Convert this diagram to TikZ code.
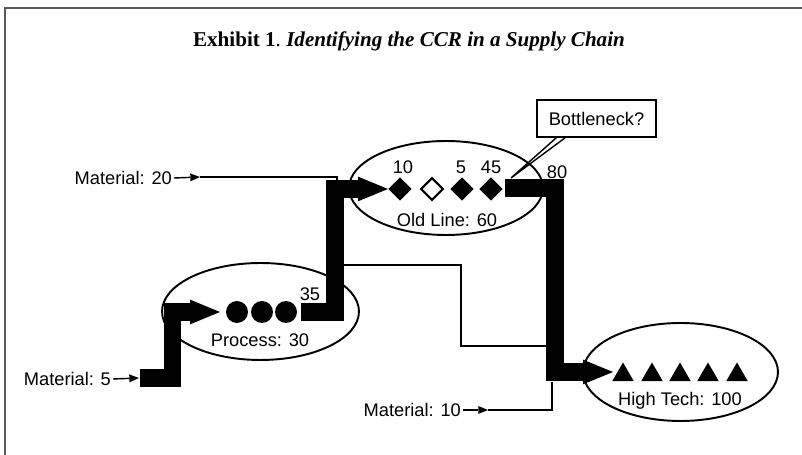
\documentclass[tikz,border=0pt]{standalone}
\usepackage{fontspec}
\setmainfont{Liberation Sans}
\newfontfamily\exhibitfont{Liberation Serif}
\usetikzlibrary{arrows.meta,shapes.geometric}

\begin{document}
\begin{tikzpicture}[x=0.02cm, y=-0.02cm,
    stage/.style={draw, ellipse, line width=1.1pt, inner sep=0pt},
    flow/.style={line width=10pt, -{Triangle[length=17pt,width=14pt,line width=0pt]}},
    feed/.style={line width=0.8pt, -{Triangle[length=5.5pt,width=4.5pt,line width=0pt]}},
    link/.style={line width=0.8pt},
    lbl/.style={font=\fontsize{10.4}{12}\selectfont, inner sep=1pt},
    dot/.style={circle, fill, minimum size=0.44cm, inner sep=0pt},
    gem/.style={diamond, fill, minimum size=0.47cm, inner sep=0pt},
    cone/.style={regular polygon, regular polygon sides=3, fill, minimum size=0.5cm, inner sep=0pt}]
    \useasboundingbox (0,0) rectangle (802,455);

    % frame and heading
    \draw[line width=1.1pt, black!65] (5,455) -- (5,8) -- (802,8);
    \node[anchor=base, inner sep=0pt] (title) at (409,47)
        {\exhibitfont\fontsize{12}{14}\selectfont\textbf{Exhibit 1}.\ \textbf{\itshape Identifying the CCR in a Supply Chain}};

    % the three stages
    \node[stage, minimum width=3.94cm, minimum height=1.94cm] (proc) at (260.5,311.5) {};
    \node[stage, minimum width=3.88cm, minimum height=1.88cm] (old) at (446,188) {};
    \node[stage, minimum width=3.9cm, minimum height=1.96cm] (high) at (680.5,372) {};
    \node[lbl] (proclbl) at (260,340) {Process: 30};
    \node[lbl] (oldlbl) at (447,220) {Old Line: 60};
    \node[lbl] (highlbl) at (680,401) {High Tech: 100};

    % flow coordinates
    \coordinate (m5) at (140,378);
    \coordinate (pin) at (220,312);
    \coordinate (pout) at (301,312);
    \coordinate (oin) at (388,189);
    \coordinate (oout) at (505,188);
    \coordinate (hin) at (613,372);

    % thick product flow
    \draw[flow] (m5) -- (172.5,378) |- (pin);
    \draw[flow] (pout) -- (335,312) |- (oin);
    \draw[flow] (oout) -- (555,188) |- (hin);

    % process
    \node[dot] (p1) at (237,312) {};
    \node[dot] (p2) at (262,312) {};
    \node[dot] (p3) at (286,312) {};
    \node[lbl] (n35) at (310,294) {35};

    % old line
    \node[gem] (d1) at (400,189) {};
    \node[gem, fill=white, draw, line width=1.2pt, minimum size=0.45cm] (d2) at (432,189) {};
    \node[gem] (d3) at (462,189) {};
    \node[gem] (d4) at (491,189) {};
    \node[lbl] (n10) at (403,167) {10};
    \node[lbl] (n5) at (461,167) {5};
    \node[lbl] (n45) at (491,167) {45};
    \node[lbl] (n80) at (557,172) {80};

    % high tech
    \node[cone] (t1) at (623,375) {};
    \node[cone] (t2) at (652,375) {};
    \node[cone] (t3) at (680,375) {};
    \node[cone] (t4) at (708,375) {};
    \node[cone] (t5) at (737,375) {};

    % material in
    \node[lbl, anchor=east] (mat20) at (174,178) {Material: 20};
    \node[lbl, anchor=east] (mat5) at (113,379) {Material: 5};
    \node[lbl, anchor=east] (mat10) at (463,410) {Material: 10};
    \coordinate (f20) at (200,177);
    \coordinate (f5) at (139,378);
    \coordinate (f10) at (488,410);
    \draw[feed] (mat20.east) -- (f20);
    \draw[feed] (mat5.east) -- (f5);
    \draw[feed] (mat10.east) -- (f10);
    \draw[link] (f20) -| (337,182);
    \draw[link] (f10) -| (552,382);
    \draw[link] (343,265) -| (461,346) -- (546,346); %process to high tech

    % callout
    \node[draw, line width=1.1pt, minimum width=2.38cm, minimum height=0.74cm, inner sep=0pt,
        font=\fontsize{10.4}{12}\selectfont] (neck) at (596.5,118.5) {Bottleneck?};
    \draw[link] ([xshift=-23pt]neck.south) -- (511,178) -- ([xshift=-18pt]neck.south);
\end{tikzpicture}
\end{document}
